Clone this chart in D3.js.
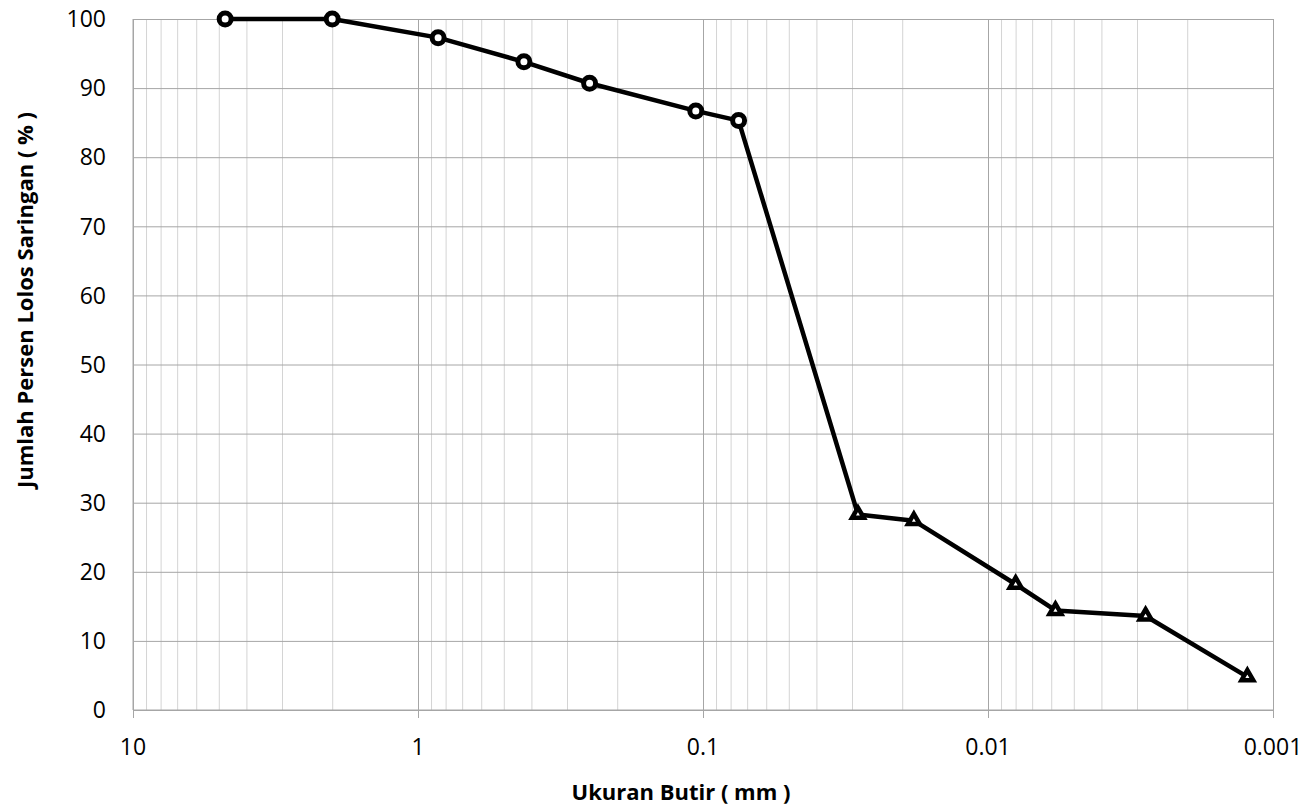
<!DOCTYPE html>
<html lang="id">

<head>
    <meta charset="UTF-8">
    <title>Analisa Saringan</title>
    <script src="https://cdn.jsdelivr.net/npm/d3@7"></script>
</head>
<style>
    body {
        margin: 0;
        background: #fff;
    }

    text {
        font-family: "Open Sans", Lato, sans-serif;
        fill: #000;
    }

    .grid .domain {
        display: none;
    }

    .grid.minor line {
        stroke: #d4d4d4;
    }

    .grid.major line,
    .grid.hor line {
        stroke: #a6a6a6;
    }
</style>

<body>
    <svg></svg>
</body>

</html>
<script>
    // ayakan (lingkaran) dan hidrometer (segitiga)
    const sieveSize = [4.75, 2.0, 0.85, 0.425, 0.25, 0.106, 0.075]
    const sievePass = [100, 100, 97.3, 93.8, 90.7, 86.7, 85.3]
    const hydroSize = [0.0286, 0.0182, 0.0080, 0.0058, 0.0028, 0.00123]
    const hydroPass = [28.3, 27.4, 18.2, 14.4, 13.6, 4.8]

    const xTicks = [10, 1, 0.1, 0.01, 0.001]
    const xTickLabels = ['10', '1', '0.1', '0.01', '0.001']
    const yTicks = [0, 10, 20, 30, 40, 50, 60, 70, 80, 90, 100]

    const W = 1312, H = 811
    const pLeft = 133, pRight = 1273, pTop = 19, pBottom = 710

    const svg = d3.select('svg').attr('width', W).attr('height', H)

    const x = d3.scaleLog().domain([10, 0.001]).range([pLeft, pRight])
    const y = d3.scaleLinear().domain([0, 100]).range([pBottom, pTop])

    const minorTicks = x.ticks().filter(v => !xTicks.some(t => Math.abs(t - v) / t < 1e-6))

    // garis bantu minor
    svg.append('g')
        .attr('class', 'grid minor')
        .attr('transform', `translate(0,${pBottom})`)
        .call(d3.axisBottom(x).tickValues(minorTicks).tickSize(-(pBottom - pTop)).tickFormat(''))

    // garis horisontal
    svg.append('g')
        .attr('class', 'grid hor')
        .attr('transform', `translate(${pLeft},0)`)
        .call(d3.axisLeft(y).tickValues(yTicks).tickSize(-(pRight - pLeft)).tickFormat(''))

    // garis dekade
    svg.append('g')
        .attr('class', 'grid major')
        .attr('transform', `translate(0,${pBottom})`)
        .call(d3.axisBottom(x).tickValues(xTicks).tickSize(-(pBottom - pTop)).tickFormat(''))

    // tick kecil di bawah sumbu x
    svg.append('g')
        .attr('class', 'grid major')
        .attr('transform', `translate(0,${pBottom})`)
        .call(d3.axisBottom(x).tickValues(xTicks).tickSize(8).tickFormat(''))

    svg.append('line')
        .attr('x1', pLeft).attr('x2', pLeft)
        .attr('y1', pTop).attr('y2', pBottom)
        .attr('stroke', '#a6a6a6')
    svg.append('line')
        .attr('x1', pLeft).attr('x2', pRight)
        .attr('y1', pBottom).attr('y2', pBottom)
        .attr('stroke', '#a6a6a6')

    // label sumbu
    svg.append('g').selectAll('text')
        .data(yTicks)
        .join('text')
        .attr('x', 106)
        .attr('y', d => y(d))
        .attr('dy', '0.36em')
        .attr('text-anchor', 'end')
        .style('font-size', '23px')
        .text(d => d)

    svg.append('g').selectAll('text')
        .data(xTicks)
        .join('text')
        .attr('x', d => x(d))
        .attr('y', pBottom + 45)
        .attr('text-anchor', 'middle')
        .style('font-size', '23px')
        .text((d, i) => xTickLabels[i])

    svg.append('text')
        .attr('x', 681)
        .attr('y', 800)
        .attr('text-anchor', 'middle')
        .style('font-size', '22px')
        .style('font-weight', 'bold')
        .text('Ukuran Butir ( mm )')

    svg.append('text')
        .attr('transform', 'translate(33,300) rotate(-90)')
        .attr('text-anchor', 'middle')
        .style('font-size', '22px')
        .style('font-weight', 'bold')
        .text('Jumlah Persen Lolos Saringan ( % )')

    // data
    const sieve = sieveSize.map((s, i) => ({ s: s, p: sievePass[i] }))
    const hydro = hydroSize.map((s, i) => ({ s: s, p: hydroPass[i] }))
    const all = sieve.concat(hydro)

    svg.append('path')
        .datum(all)
        .attr('fill', 'none')
        .attr('stroke', '#000')
        .attr('stroke-width', 4.5)
        .attr('stroke-linejoin', 'round')
        .attr('d', d3.line().x(d => x(d.s)).y(d => y(d.p)))

    svg.append('g').selectAll('circle')
        .data(sieve)
        .join('circle')
        .attr('cx', d => x(d.s))
        .attr('cy', d => y(d.p))
        .attr('r', 6)
        .attr('fill', '#fff')
        .attr('stroke', '#000')
        .attr('stroke-width', 5)

    svg.append('g').selectAll('path')
        .data(hydro)
        .join('path')
        .attr('transform', d => `translate(${x(d.s)},${y(d.p)})`)
        .attr('d', d3.symbol(d3.symbolTriangle, 60))
        .attr('fill', '#fff')
        .attr('stroke', '#000')
        .attr('stroke-width', 4.5)
        .attr('stroke-linejoin', 'miter')
</script>
